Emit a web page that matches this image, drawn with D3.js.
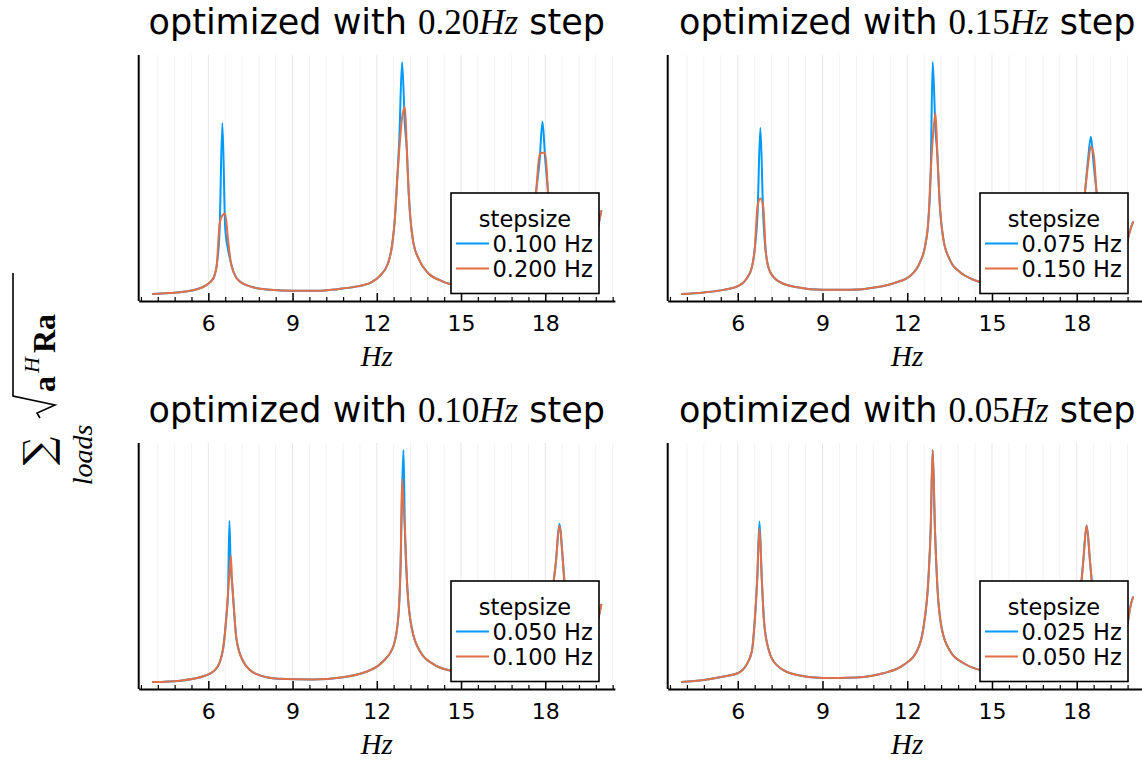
<!DOCTYPE html>
<meta charset="utf-8">
<head>
<script src="https://d3js.org/d3.v7.min.js"></script>
<style>
body { margin: 0; background: #fff; }
.tick text { font-family: "DejaVu Sans", sans-serif; font-size: 22px; fill: #000; }
</style>
</head>
<body>
<div id="my_dataviz"></div>
<script>
// ---- data (arbitrary magnitude units, y axis has no labels) ----

// top left: optimized with 0.20 Hz step
var hzA = [4.0, 4.6, 5.2, 5.6, 5.9, 6.1, 6.2, 6.3, 6.4, 6.5, 6.6, 6.7, 6.8, 6.9, 7.1, 7.6, 8.2, 9.0, 9.9, 10.6,
  11.3, 11.8, 12.1, 12.4, 12.55, 12.65, 12.72, 12.8, 12.9, 13.0, 13.07, 13.13, 13.19, 13.3, 13.5, 13.8, 14.3, 14.6,
  15.2, 15.8, 16.4, 16.9, 17.3, 17.5, 17.67, 17.8, 17.9, 18.0, 18.1, 18.25, 18.5, 18.9, 19.3, 19.6, 19.8, 19.9, 20.0];
var blueA = [2.6, 3.0, 3.7, 4.7, 6.2, 8.2, 9.9, 15.1, 29.7, 76.5, 31.4, 21.9, 16.3, 12.0, 8.2, 5.5, 4.4, 4.0, 4.0, 4.7,
  5.9, 7.6, 10.3, 15.9, 24.1, 36.1, 50.7, 69.2, 102.8, 75.7, 64.9, 47.7, 36.1, 24.9, 17.6, 12.0, 8.3, 6.9,
  5.6, 5.6, 6.9, 9.9, 15.5, 26.2, 46.4, 60.5, 77.0, 60.5, 46.4, 28.4, 17.6, 13.3, 14.2, 18.5, 26.2, 32.7, 38.7];
var orangeA = [2.6, 3.0, 3.7, 4.7, 6.2, 8.2, 9.9, 15.1, 32.7, 36.6, 37.4, 26.2, 16.3, 12.0, 8.2, 5.5, 4.4, 4.0, 4.0, 4.7,
  5.9, 7.6, 10.3, 15.9, 24.1, 36.1, 50.7, 64.9, 78.7, 83.4, 64.9, 47.7, 36.1, 24.9, 17.6, 12.0, 8.3, 6.9,
  5.6, 5.6, 6.9, 9.9, 15.5, 26.2, 46.4, 62.8, 63.6, 63.6, 46.4, 28.4, 17.6, 13.3, 14.2, 18.5, 26.2, 32.7, 38.7];

// top right: optimized with 0.15 Hz step
var hzB = [4.0, 4.8, 5.5, 6.0, 6.3, 6.5, 6.6, 6.7, 6.8, 6.9, 7.0, 7.15, 7.5, 8.1, 9.0, 10.0, 10.9, 11.6, 12.1, 12.45,
  12.63, 12.75, 12.83, 12.9, 13.0, 13.07, 13.14, 13.28, 13.5, 13.87, 14.3, 14.6, 15.2, 15.8, 16.4, 17.0, 17.5,
  17.9, 18.15, 18.3, 18.4, 18.5, 18.6, 18.7, 18.85, 19.1, 19.4, 19.7, 19.85, 20.0];
var blueB = [2.6, 3.3, 4.4, 6.0, 9.0, 14.2, 21.9, 37.0, 74.4, 37.0, 19.8, 12.0, 7.7, 5.5, 4.4, 4.4, 5.5, 7.6, 10.4, 16.3,
  23.2, 34.8, 55.0, 102.8, 73.5, 61.9, 43.4, 26.2, 17.6, 12.0, 9.0, 7.7, 6.5, 6.5, 7.7, 10.3, 15.1,
  21.9, 32.7, 47.7, 60.6, 70.5, 58.5, 46.9, 30.5, 17.6, 14.2, 19.8, 28.4, 34.0];
var orangeB = [2.6, 3.3, 4.4, 6.0, 9.0, 14.2, 21.9, 40.4, 43.9, 40.4, 19.8, 12.0, 7.7, 5.5, 4.4, 4.4, 5.5, 7.6, 10.4, 16.3,
  23.2, 34.8, 55.0, 69.2, 80.8, 61.9, 43.4, 26.2, 17.6, 12.0, 9.0, 7.7, 6.5, 6.5, 7.7, 10.3, 15.1,
  21.9, 32.7, 47.7, 58.5, 66.2, 62.8, 46.9, 30.5, 17.6, 14.2, 19.8, 28.4, 34.0];

// bottom left: optimized with 0.10 Hz step
var hzC = [4.0, 5.0, 5.9, 6.2, 6.4, 6.55, 6.65, 6.7, 6.75, 6.8, 6.85, 6.9, 7.0, 7.25, 7.7, 8.5, 9.7, 10.8, 11.6, 12.2,
  12.6, 12.77, 12.85, 12.9, 12.95, 13.0, 13.09, 13.25, 13.55, 14.0, 14.65, 15.3, 16.0, 16.7, 17.3, 17.8, 18.1,
  18.3, 18.38, 18.5, 18.63, 18.68, 18.85, 19.1, 19.4, 19.7, 19.85, 19.95, 20.0];
var blueC = [2.5, 3.1, 5.3, 7.3, 10.8, 18.9, 31.8, 40.4, 71.8, 51.2, 44.7, 36.1, 21.1, 11.2, 6.0, 3.9, 3.6, 4.6, 6.8, 11.1,
  18.2, 31.0, 54.2, 83.4, 102.3, 68.4, 42.6, 25.4, 15.5, 10.3, 7.3, 6.0, 6.0, 7.7, 11.2, 18.9, 29.7,
  46.0, 54.2, 70.5, 54.2, 46.0, 29.7, 18.9, 15.9, 21.1, 27.5, 33.1, 36.1];
var orangeC = [2.5, 3.1, 5.3, 7.3, 10.8, 18.9, 31.8, 40.4, 49.0, 56.8, 44.7, 36.1, 21.1, 11.2, 6.0, 3.9, 3.6, 4.6, 6.8, 11.1,
  18.2, 31.0, 54.2, 89.9, 79.0, 68.4, 42.6, 25.4, 15.5, 10.3, 7.3, 6.0, 6.0, 7.7, 11.2, 18.9, 29.7,
  46.0, 54.2, 69.7, 54.2, 46.0, 29.7, 18.9, 15.9, 21.1, 27.5, 33.1, 36.1];

// bottom right: optimized with 0.05 Hz step
var hzD = [4.0, 4.8, 5.5, 6.0, 6.3, 6.5, 6.6, 6.69, 6.77, 6.85, 6.93, 7.08, 7.38, 8.1, 9.0, 10.2, 11.15, 11.86, 12.34, 12.57,
  12.75, 12.83, 12.9, 12.98, 13.07, 13.22, 13.52, 14.0, 14.6, 15.3, 16.0, 16.7, 17.3, 17.75, 18.0, 18.17, 18.23,
  18.35, 18.47, 18.53, 18.7, 19.0, 19.3, 19.6, 19.8, 19.9, 20.0];
var blueD = [2.2, 3.1, 4.6, 6.0, 9.5, 15.5, 28.4, 46.9, 71.4, 46.9, 28.4, 16.8, 9.5, 5.2, 3.9, 4.2, 6.0, 9.5, 15.5, 25.4,
  46.9, 68.4, 102.3, 68.4, 42.6, 25.4, 15.5, 10.3, 7.3, 6.0, 6.0, 8.2, 12.5, 21.1, 33.1, 46.0, 54.2,
  69.7, 54.2, 46.0, 29.7, 18.9, 15.9, 20.2, 27.5, 34.8, 39.1];
var orangeD = [2.2, 3.1, 4.6, 6.0, 9.5, 15.5, 28.4, 46.9, 68.4, 46.9, 28.4, 16.8, 9.5, 5.2, 3.9, 4.2, 6.0, 9.5, 15.5, 25.4,
  46.9, 68.4, 102.3, 68.4, 42.6, 25.4, 15.5, 10.3, 7.3, 6.0, 6.0, 8.2, 12.5, 21.1, 33.1, 46.0, 54.2,
  69.7, 54.2, 46.0, 29.7, 18.9, 15.9, 20.2, 27.5, 34.8, 39.1];

var optSteps = ["0.20", "0.15", "0.10", "0.05"];
var blueLabels = ["0.100 Hz", "0.075 Hz", "0.050 Hz", "0.025 Hz"];
var orangeLabels = ["0.200 Hz", "0.150 Hz", "0.100 Hz", "0.050 Hz"];
var majorTicks = [6, 9, 12, 15, 18];
var legendTitle = "stepsize";

// ---- layout ----
var W = 1142, H = 763;
var colLeft = [138.7, 667.7], colWidth = [476.2, 479.1];
var rowTop = [55, 443], plotH = 246;
var blueColor = "#009afa", orangeColor = "#e36f47";
var serif = '"Liberation Serif", "DejaVu Serif", serif';

var svg = d3.select("#my_dataviz")
  .append("svg")
    .attr("width", W)
    .attr("height", H)
    .style("background", "#fff");

var panels = [
  {hz: hzA, blue: blueA, orange: orangeA},
  {hz: hzB, blue: blueB, orange: orangeB},
  {hz: hzC, blue: blueC, orange: orangeC},
  {hz: hzD, blue: blueD, orange: orangeD}
];

// minor ticks every 0.6 Hz (5 per major step)
var minorTicks = d3.range(0, 29).map(function(i) { return +(3.6 + 0.6 * i).toFixed(1); })
  .filter(function(t) { return majorTicks.indexOf(t) < 0; });

panels.forEach(function(p, k) {
  var col = k % 2, row = Math.floor(k / 2);
  var left = colLeft[col], top = rowTop[row], w = colWidth[col];

  var g = svg.append("g").attr("transform", "translate(" + left + "," + top + ")");

  // x: data 4..20 Hz, widened 3% each side like Plots.jl
  var x = d3.scaleLinear().domain([3.52, 20.48]).range([0, w]);
  var all = p.blue.concat(p.orange);
  var ext = d3.extent(all), pad = (ext[1] - ext[0]) * 0.03;
  var y = d3.scaleLinear().domain([ext[0] - pad, ext[1] + pad]).range([plotH, 0]);

  // grid
  g.selectAll(".mgrid").data(minorTicks).enter().append("line")
    .attr("x1", function(d) { return x(d); }).attr("x2", function(d) { return x(d); })
    .attr("y1", 0).attr("y2", plotH)
    .attr("stroke", "#000").attr("stroke-opacity", 0.05).attr("stroke-width", 1);
  g.selectAll(".grid").data(majorTicks).enter().append("line")
    .attr("x1", function(d) { return x(d); }).attr("x2", function(d) { return x(d); })
    .attr("y1", 0).attr("y2", plotH)
    .attr("stroke", "#000").attr("stroke-opacity", 0.1).attr("stroke-width", 1);

  // series
  var line = d3.line()
    .curve(d3.curveMonotoneX)
    .x(function(d) { return x(d[0]); })
    .y(function(d) { return y(d[1]); });
  var series = [[p.blue, blueColor], [p.orange, orangeColor]];
  series.forEach(function(s) {
    var pts = p.hz.map(function(h, i) { return [h, s[0][i]]; });
    g.append("path")
      .datum(pts)
      .attr("fill", "none")
      .attr("stroke", s[1])
      .attr("stroke-width", 2)
      .attr("stroke-linejoin", "round")
      .attr("d", line);
  });

  // axes
  var xAxis = g.append("g")
    .attr("transform", "translate(0," + plotH + ")")
    .call(d3.axisBottom(x).tickValues(majorTicks).tickSizeInner(-8).tickSizeOuter(0).tickPadding(14));
  xAxis.select(".domain").attr("stroke", "#000").attr("stroke-width", 2);
  xAxis.selectAll(".tick line").attr("stroke", "#000").attr("stroke-width", 1.5);

  var xMinor = g.append("g")
    .attr("transform", "translate(0," + plotH + ")")
    .call(d3.axisBottom(x).tickValues(minorTicks).tickSizeInner(-4).tickSizeOuter(0).tickFormat(""));
  xMinor.select(".domain").remove();
  xMinor.selectAll(".tick line").attr("stroke", "#000").attr("stroke-width", 1.2);

  g.append("line")
    .attr("x1", 0).attr("x2", 0).attr("y1", 0).attr("y2", plotH)
    .attr("stroke", "#000").attr("stroke-width", 2);

  // axis guide
  g.append("text")
    .attr("x", w / 2).attr("y", 311)
    .attr("text-anchor", "middle")
    .style("font-family", serif).style("font-style", "italic").style("font-size", "29px")
    .text("Hz");

  // title
  var title = g.append("text")
    .attr("x", w / 2).attr("y", -21)
    .attr("text-anchor", "middle")
    .style("font-family", '"DejaVu Sans", sans-serif').style("font-size", "35px")
    .attr("fill", "#000");
  title.append("tspan").text("optimized with ");
  title.append("tspan").style("font-family", serif).text(optSteps[k]);
  title.append("tspan").style("font-family", serif).style("font-style", "italic").text("Hz");
  title.append("tspan").text(" step");

  // legend
  var lg = g.append("g").attr("transform", "translate(312.3,138)");
  lg.append("rect")
    .attr("width", 148).attr("height", 100.5)
    .attr("fill", "#fff").attr("stroke", "#000").attr("stroke-width", 1.6);
  lg.append("text")
    .attr("x", 74).attr("y", 33.5)
    .attr("text-anchor", "middle")
    .style("font-family", '"DejaVu Sans", sans-serif').style("font-size", "22.5px")
    .text(legendTitle);
  [[blueLabels[k], blueColor], [orangeLabels[k], orangeColor]].forEach(function(e, i) {
    var yy = 50.5 + 25 * i;
    lg.append("line")
      .attr("x1", 5).attr("x2", 38).attr("y1", yy).attr("y2", yy)
      .attr("stroke", e[1]).attr("stroke-width", 2);
    lg.append("text")
      .attr("x", 41.5).attr("y", yy + 8.3)
      .style("font-family", '"DejaVu Sans", sans-serif').style("font-size", "22.5px")
      .text(e[0]);
  });
});

// shared y label: sum over loads of sqrt(a^H R a)
var yl = svg.append("g")
  .attr("transform", "translate(55,488) rotate(-90)")
  .style("font-family", serif);
yl.append("text")
  .attr("x", 37).attr("y", -3)
  .attr("text-anchor", "middle")
  .style("font-family", '"DejaVu Serif", serif').style("font-size", "40px")
  .text("\u2211");
yl.append("text")
  .attr("x", 33).attr("y", 37)
  .attr("text-anchor", "middle")
  .style("font-style", "italic").style("font-size", "28px")
  .text("loads");
yl.append("path")
  .attr("d", "M70,-15 L75,-18 L83,0 L92,-42 L215,-42")
  .attr("fill", "none").attr("stroke", "#000").attr("stroke-width", 1.6);
var yt = yl.append("text").attr("x", 96).attr("y", 0).style("font-size", "32px");
yt.append("tspan").style("font-weight", "bold").text("a");
yt.append("tspan").attr("dy", -16).attr("dx", 3).style("font-style", "italic").style("font-size", "22px").text("H");
yt.append("tspan").attr("dy", 16).attr("dx", 4).style("font-weight", "bold").text("Ra");
</script>
</body>
</html>
